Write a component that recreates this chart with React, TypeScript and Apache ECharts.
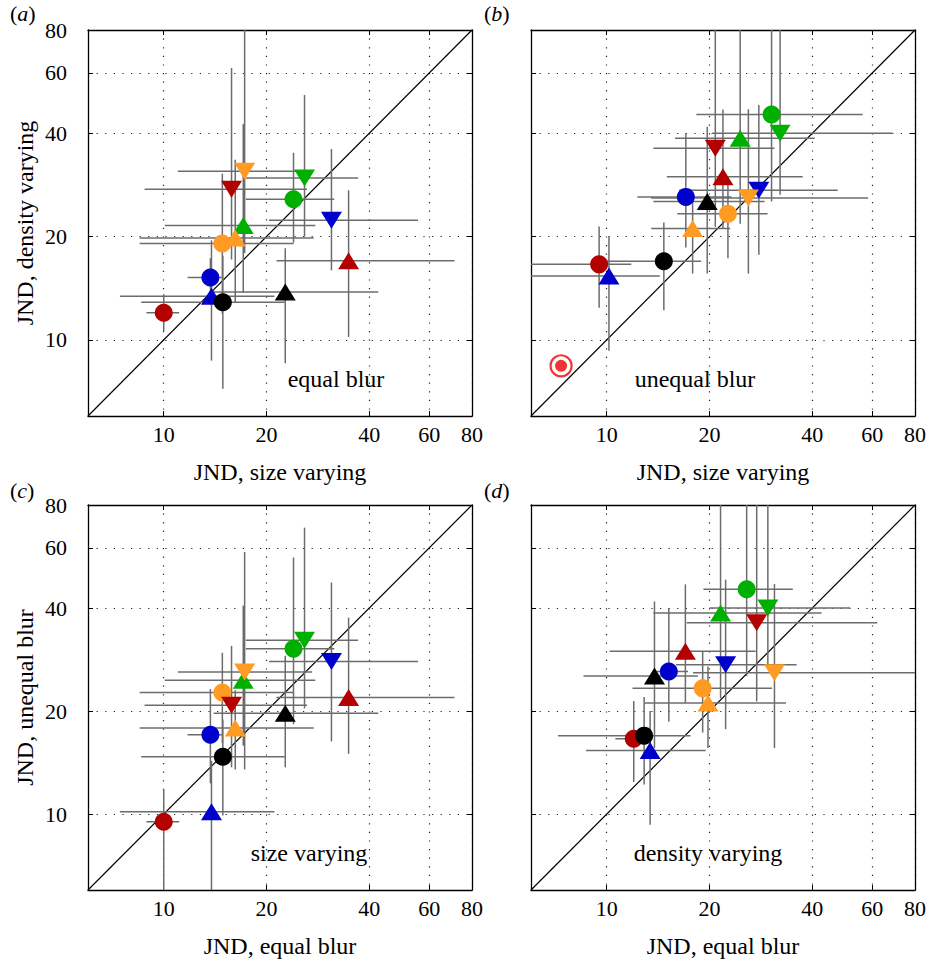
import React, { useEffect, useRef } from 'react';
import * as echarts from 'echarts';

// axis
const axisMin = 6;
const axisMax = 80;
const tickValues = [10, 20, 40, 60, 80];

// stimuli (marker colour + shape), drawn in this order
const markerColors = ['#b30000', '#0000cc', '#0000cc', '#000000', '#000000', '#b30000', '#0000cc', '#00b000', '#00b000', '#00b000', '#ff9a22', '#ff9a22', '#b30000', '#ff9a22'];
const markerShapes = ['circle', 'circle', 'up', 'circle', 'up', 'up', 'down', 'down', 'circle', 'up', 'down', 'circle', 'down', 'up'];

// JND, size varying, equal blur
const sizeEqual = [10.0, 13.7, 13.8, 14.9, 22.7, 34.8, 31.0, 25.85, 24.0, 17.1, 17.26, 14.85, 15.8, 16.2];
const sizeEqualLo = [8.9, 11.75, 7.44, 8.59, 14.0, 21.4, 20.35, 17.4, 17.4, 10.07, 11.0, 8.5, 8.79, 8.5];
const sizeEqualHi = [11.1, 14.8, 21.1, 22.6, 42.5, 71.1, 55.6, 37.1, 31.6, 27.8, 27.2, 24.0, 26.3, 27.5];
// JND, density varying, equal blur
const densityEqual = [12.0, 15.2, 13.4, 12.87, 13.8, 17.0, 22.3, 29.65, 25.7, 21.55, 31.0, 19.1, 27.5, 19.8];
const densityEqualLo = [10.6, 14.0, 8.7, 7.2, 8.55, 10.2, 15.95, 20.0, 19.2, 13.7, 17.9, 11.9, 17.15, 12.9];
const densityEqualHi = [13.6, 17.3, 19.5, 17.6, 18.5, 27.3, 36.0, 51.7, 35.1, 42.6, 95, 30.5, 62.0, 33.5];
// JND, size varying, unequal blur
const sizeUnequal = [9.5, 17.05, 10.15, 14.7, 19.7, 21.9, 27.9, 32.2, 30.4, 24.6, 26.0, 22.65, 20.8, 17.85];
const sizeUnequalLo = [5.9, 12.3, 5.9, 9.9, 13.7, 15.0, 16.3, 20.35, 18.3, 15.85, 13.5, 16.1, 13.7, 13.5];
const sizeUnequalHi = [11.8, 23.2, 14.3, 18.9, 29.0, 37.5, 47.5, 68.7, 56.2, 40.65, 58.3, 29.6, 31.0, 23.0];
// JND, density varying, unequal blur
const densityUnequal = [16.6, 26.1, 15.35, 16.95, 25.3, 29.9, 27.3, 40.0, 45.4, 38.7, 25.9, 23.3, 36.2, 21.1];
const densityUnequalLo = [12.4, 18.6, 9.3, 12.2, 15.6, 21.1, 17.7, 26.5, 25.3, 21.8, 15.6, 17.3, 21.35, 15.6];
const densityUnequalHi = [21.4, 40.0, 20.0, 22.0, 41.8, 46.9, 48.4, 95, 95, 95, 47.0, 29.9, 95, 27.0];

// highlighted point in panel (b)
const specialPoint = [7.35, 8.4];

const panelLetters = ['a', 'b', 'c', 'd'];
const panelNotes = ['equal blur', 'unequal blur', 'size varying', 'density varying'];
const xNames = ['JND, size varying', 'JND, size varying', 'JND, equal blur', 'JND, equal blur'];
const yNames = ['JND, density varying', '', 'JND, unequal blur', ''];

const FONT = "'Liberation Serif', 'Times New Roman', serif";
const L = (v: number) => Math.log10(v);
const LMIN = L(axisMin);
const LMAX = L(axisMax);
const clampL = (v: number) => Math.min(LMAX, Math.max(LMIN, v));

const panelData = [
  { x: [sizeEqual, sizeEqualLo, sizeEqualHi], y: [densityEqual, densityEqualLo, densityEqualHi] },
  { x: [sizeUnequal, sizeUnequalLo, sizeUnequalHi], y: [densityUnequal, densityUnequalLo, densityUnequalHi] },
  { x: [sizeEqual, sizeEqualLo, sizeEqualHi], y: [sizeUnequal, sizeUnequalLo, sizeUnequalHi] },
  { x: [densityEqual, densityEqualLo, densityEqualHi], y: [densityUnequal, densityUnequalLo, densityUnequalHi] },
];

const gridPos = [
  { left: 88, top: 30 },
  { left: 531, top: 30 },
  { left: 88, top: 505 },
  { left: 531, top: 505 },
];
const GW = 384;
const GH = 386;

function buildOption() {
  const ticks = tickValues.map(L);
  const grids: any[] = [];
  const xAxes: any[] = [];
  const yAxes: any[] = [];
  const series: any[] = [];
  const graphics: any[] = [];
  const frameLine = { show: true, onZero: false, lineStyle: { color: '#000', width: 1.3 } };
  const tickStyle = { show: true, inside: true, length: 5, customValues: ticks, lineStyle: { color: '#000', width: 1 } };
  const labelFmt = (v: number) => String(Math.round(Math.pow(10, v)));
  const split = { show: true, lineStyle: { color: '#222', width: 1.2, type: [1.2, 7.4] } };

  gridPos.forEach((g, i) => {
    grids.push({ left: g.left, top: g.top, width: GW, height: GH, containLabel: false });
    xAxes.push({
      type: 'value', gridIndex: i, position: 'bottom', min: LMIN, max: LMAX,
      axisLine: frameLine, axisTick: tickStyle,
      axisLabel: { show: true, customValues: ticks, formatter: labelFmt, color: '#000', fontSize: 22, fontFamily: FONT, margin: 7 },
      splitLine: split,
      name: xNames[i], nameLocation: 'middle', nameGap: 44,
      nameTextStyle: { color: '#000', fontSize: 24, fontFamily: FONT },
    });
    xAxes.push({
      type: 'value', gridIndex: i, position: 'top', min: LMIN, max: LMAX,
      axisLine: frameLine, axisTick: tickStyle, axisLabel: { show: false }, splitLine: { show: false },
    });
    yAxes.push({
      type: 'value', gridIndex: i, position: 'left', min: LMIN, max: LMAX,
      axisLine: frameLine, axisTick: tickStyle,
      axisLabel: { show: yNames[i] !== '', customValues: ticks, formatter: labelFmt, color: '#000', fontSize: 22, fontFamily: FONT, margin: 21 },
      splitLine: split,
      name: yNames[i], nameLocation: 'middle', nameGap: 51,
      nameTextStyle: { color: '#000', fontSize: 24, fontFamily: FONT },
    });
    yAxes.push({
      type: 'value', gridIndex: i, position: 'right', min: LMIN, max: LMAX,
      axisLine: frameLine, axisTick: tickStyle, axisLabel: { show: false }, splitLine: { show: false },
    });

    const xi = 2 * i;
    const yi = 2 * i;
    const pd = panelData[i];

    series.push({
      type: 'line', xAxisIndex: xi, yAxisIndex: yi, silent: true, symbol: 'none', z: 2,
      data: [[LMIN, LMIN], [LMAX, LMAX]],
      lineStyle: { color: '#000', width: 1.2 },
    });

    const errData = markerColors.map((_, k) => [
      L(pd.x[0][k]), L(pd.y[0][k]), L(pd.x[1][k]), L(pd.x[2][k]), L(pd.y[1][k]), L(pd.y[2][k]),
    ]);
    series.push({
      type: 'custom', xAxisIndex: xi, yAxisIndex: yi, silent: true, z: 3,
      encode: { x: 0, y: 1 },
      data: errData,
      renderItem: (params: any, api: any) => {
        const x = api.value(0);
        const y = api.value(1);
        const a = api.coord([clampL(api.value(2)), y]);
        const b = api.coord([clampL(api.value(3)), y]);
        const c = api.coord([x, clampL(api.value(4))]);
        const d = api.coord([x, clampL(api.value(5))]);
        const style = { stroke: '#6c6c6c', lineWidth: 1.5 };
        return {
          type: 'group',
          children: [
            { type: 'line', shape: { x1: a[0], y1: a[1], x2: b[0], y2: b[1] }, style },
            { type: 'line', shape: { x1: c[0], y1: c[1], x2: d[0], y2: d[1] }, style },
          ],
        };
      },
    });

    series.push({
      type: 'scatter', xAxisIndex: xi, yAxisIndex: yi, silent: true, z: 4,
      data: markerColors.map((col, k) => {
        const shape = markerShapes[k];
        return {
          value: [L(pd.x[0][k]), L(pd.y[0][k])],
          symbol: shape === 'circle' ? 'circle' : 'triangle',
          symbolSize: shape === 'circle' ? 18 : [21, 17],
          symbolRotate: shape === 'down' ? 180 : 0,
          itemStyle: { color: col, opacity: 1 },
        };
      }),
    });

    if (i === 1) {
      series.push({
        type: 'scatter', xAxisIndex: xi, yAxisIndex: yi, silent: true, z: 5,
        data: [
          { value: [L(specialPoint[0]), L(specialPoint[1])], symbol: 'circle', symbolSize: 21, itemStyle: { color: '#fff', borderColor: '#ee0000', borderWidth: 2.2 } },
          { value: [L(specialPoint[0]), L(specialPoint[1])], symbol: 'circle', symbolSize: 12, itemStyle: { color: '#ee0000' } },
        ],
      });
    }

    const labelX = i % 2 === 0 ? 10 : 484;
    const labelY = i < 2 ? 14 : 491;
    graphics.push({
      type: 'text', left: labelX, top: labelY - 12, silent: true,
      style: {
        text: '(' + '{i|' + panelLetters[i] + '})',
        font: `22px ${FONT}`, fill: '#000',
        rich: { i: { fontStyle: 'italic', fontSize: 22, fontFamily: FONT } },
      },
    });
    const notePos = [[336, 379], [695, 379], [309, 853], [708, 853]][i];
    graphics.push({
      type: 'text', x: notePos[0], y: notePos[1], silent: true,
      style: { text: panelNotes[i], font: `24px ${FONT}`, fill: '#000', align: 'center', verticalAlign: 'middle' },
    });
  });

  return {
    animation: false,
    backgroundColor: '#fff',
    grid: grids,
    xAxis: xAxes,
    yAxis: yAxes,
    series,
    graphic: graphics,
  };
}

export default function App() {
  const ref = useRef<HTMLDivElement>(null);
  useEffect(() => {
    if (!ref.current) return;
    const chart = echarts.init(ref.current, undefined, { renderer: 'svg' });
    chart.setOption(buildOption() as any);
    return () => chart.dispose();
  }, []);
  return <div ref={ref} style={{ position: 'absolute', left: 0, top: 0, width: 929, height: 959 }} />;
}
